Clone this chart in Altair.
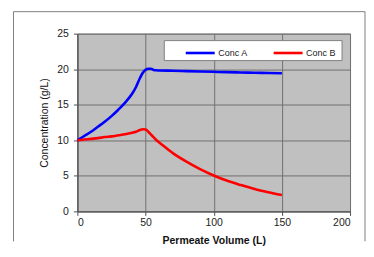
import altair as alt
import pandas as pd

volume = [0, 5, 10, 15, 20, 25, 30, 35, 40, 43, 46, 48, 50, 52, 54, 56, 58, 60,
          70, 80, 90, 100, 110, 120, 130, 140, 150]
conc_a = [10.0, 10.6, 11.2, 11.9, 12.6, 13.4, 14.3, 15.3, 16.5, 17.5, 18.8, 19.5, 19.9,
          20.05, 20.05, 19.9, 19.85, 19.82, 19.78, 19.73, 19.68, 19.63, 19.58, 19.54,
          19.5, 19.46, 19.42]
conc_b = [10.0, 10.1, 10.2, 10.3, 10.45, 10.55, 10.7, 10.85, 11.05, 11.2, 11.45, 11.55,
          11.5, 11.2, 10.8, 10.4, 10.0, 9.7, 8.2, 7.0, 5.95, 5.05, 4.3, 3.7, 3.15, 2.7, 2.3]
series_names = ["Conc A", "Conc B"]
series_colors = ["#0000ff", "#ff0000"]
x_ticks = [0, 50, 100, 150, 200]
y_ticks = [0, 5, 10, 15, 20, 25]

rows = []
for v, a, b in zip(volume, conc_a, conc_b):
    rows.append({"vol": v, "conc": a, "series": series_names[0]})
    rows.append({"vol": v, "conc": b, "series": series_names[1]})
df = pd.DataFrame(rows)
one = pd.DataFrame({"k": [0]})

FONT = "Liberation Sans"
W, H = 273, 178

lines = alt.Chart(df).mark_line(strokeWidth=2.6, interpolate="monotone").encode(
    x=alt.X("vol:Q", scale=alt.Scale(domain=[0, 200], nice=False),
            axis=alt.Axis(values=x_ticks, title="Permeate Volume (L)", titleFontWeight="bold",
                          titleFontSize=10.5, titlePadding=7.5, labelPadding=2.5)),
    y=alt.Y("conc:Q", scale=alt.Scale(domain=[0, 25], nice=False),
            axis=alt.Axis(values=y_ticks, title="Concentration (g/L)", titleFontWeight="normal",
                          titleFontSize=10.5, titlePadding=7, labelPadding=5)),
    color=alt.Color("series:N", scale=alt.Scale(domain=series_names, range=series_colors),
                    legend=alt.Legend(orient="none", legendX=107, legendY=3,
                                      direction="horizontal", title=None,
                                      symbolType="stroke", symbolSize=841,
                                      symbolStrokeWidth=2.6, labelFontSize=9,
                                      labelFont=FONT, labelOffset=2, columnPadding=20,
                                      padding=0, labelColor="#222")),
)

legend_box = alt.Chart(one).mark_rect(fill="white", stroke="#808080", strokeWidth=1).encode(
    x=alt.value(87), x2=alt.value(265), y=alt.value(7), y2=alt.value(27))

frame_style = dict(color="#808080", strokeWidth=1)
top = alt.Chart(one).mark_rule(**frame_style).encode(
    x=alt.value(-64), x2=alt.value(288), y=alt.value(-22))
left = alt.Chart(one).mark_rule(**frame_style).encode(
    x=alt.value(-64), y=alt.value(-22), y2=alt.value(208))
right = alt.Chart(one).mark_rule(**frame_style).encode(
    x=alt.value(288), y=alt.value(-22), y2=alt.value(208))

chart = alt.layer(legend_box, lines, top, left, right).properties(
    width=W, height=H,
    padding={"left": 4.5, "top": 2.5, "right": 0, "bottom": 0},
    background="white",
).configure_view(
    fill="#c0c0c0", stroke="#707070", strokeWidth=1
).configure_axis(
    grid=True, gridColor="#707070", gridWidth=1, gridOpacity=1,
    domainColor="#505050", tickColor="#505050", tickSize=4,
    labelFont=FONT, labelFontSize=10.5, labelColor="#222",
    titleFont=FONT, titleColor="#111",
)

chart.save("out.html", embed_options={"renderer": "svg", "actions": False})
